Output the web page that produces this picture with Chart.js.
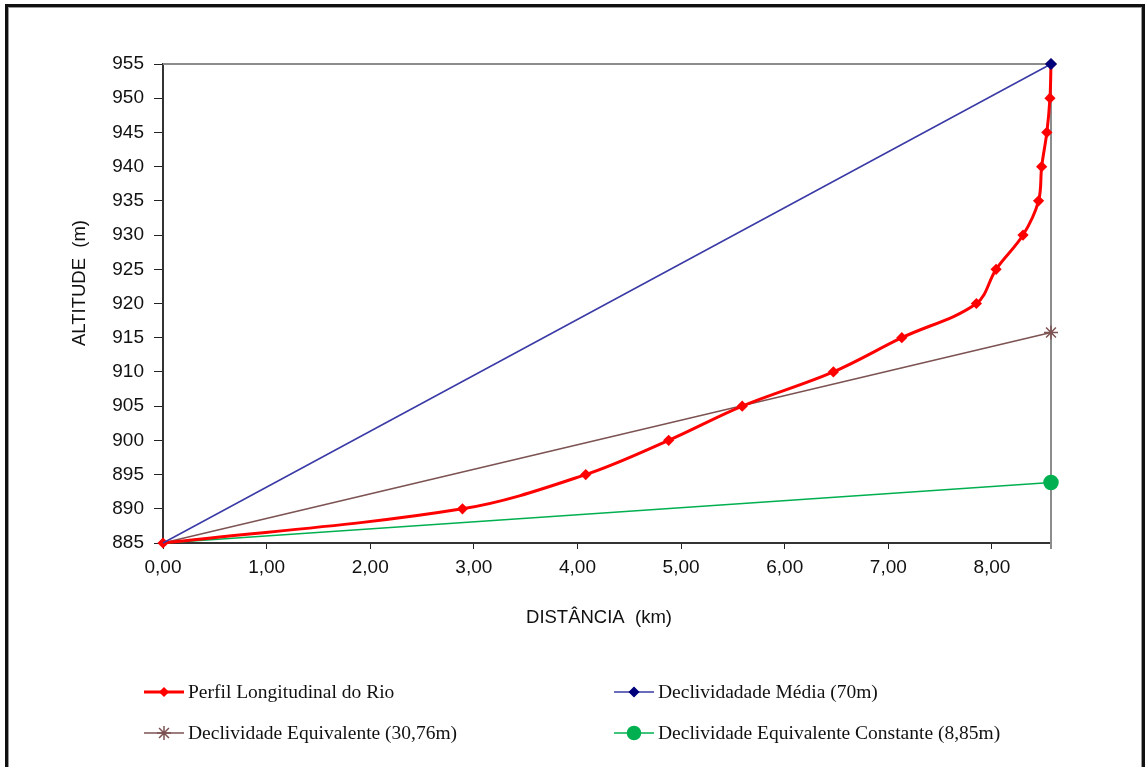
<!DOCTYPE html>
<html>
<head>
<meta charset="utf-8">
<script src="https://cdn.jsdelivr.net/npm/chart.js@4.4.1/dist/chart.umd.min.js"></script>
<style>
  html, body { margin: 0; padding: 0; background: #fff; }
  body { width: 1146px; height: 767px; position: relative; overflow: hidden; }
  .frame {
    position: absolute; left: 5px; top: 4px; width: 1134px; height: 820px;
    border: 3px solid #111; box-shadow: inset 0 0 0 1px #999;
  }
  #chart { position: absolute; left: 0; top: 0; }
</style>
</head>
<body>
<div class="frame"></div>
<canvas id="chart" width="1146" height="767"></canvas>
<script>
// river profile
const distKm = [0.00, 2.89, 4.08, 4.88, 5.59, 6.47, 7.13, 7.85, 8.04, 8.30, 8.45, 8.48, 8.53, 8.56, 8.57];
const altitude = [885, 890, 895, 900, 905, 910, 915, 920, 925, 930, 935, 940, 945, 950, 955];

// straight slope lines: start and end points
const slopeX = [0.00, 8.57];
const mediaY = [885, 955];
const equivY = [885, 915.76];
const constY = [885, 893.85];

const xTicks = [0, 1, 2, 3, 4, 5, 6, 7, 8];
const legendLabels = [
  'Perfil Longitudinal do Rio',
  'Declividadade Média (70m)',
  'Declividade Equivalente (30,76m)',
  'Declividade Equivalente Constante (8,85m)'
];
const xTitle = 'DISTÂNCIA  (km)';
const yTitle = 'ALTITUDE  (m)';

const toPts = (xs, ys) => xs.map((x, i) => ({ x: x, y: ys[i] }));
const fmt = v => v.toFixed(2).replace('.', ',');

const RED = '#ff0000';
const BLUE = '#3a3aa6';
const NAVY = '#00007a';
const BROWN = '#7d5252';
const GREEN = '#00b050';

// legend entries: colour, marker, marker size
const legendItems = [
  { text: legendLabels[0], color: RED, mark: RED, style: 'rectRot', r: 4, w: 3, col: 0, row: 0 },
  { text: legendLabels[1], color: BLUE, mark: NAVY, style: 'rectRot', r: 4.5, w: 1.5, col: 1, row: 0 },
  { text: legendLabels[2], color: BROWN, mark: BROWN, style: 'star', r: 7, w: 1.5, col: 0, row: 1 },
  { text: legendLabels[3], color: GREEN, mark: GREEN, style: 'circle', r: 6.5, w: 1.5, col: 1, row: 1 }
];

const framePlugin = {
  id: 'framePlugin',
  beforeDatasetsDraw(chart) {
    const { ctx, chartArea: a } = chart;
    ctx.save();
    ctx.strokeStyle = '#8c8c8c';
    ctx.lineWidth = 2;
    ctx.beginPath();
    ctx.moveTo(a.left, a.top);
    ctx.lineTo(a.right, a.top);
    ctx.lineTo(a.right, a.bottom + 6);
    ctx.stroke();
    ctx.restore();
  },
  afterDraw(chart) {
    const { ctx, chartArea: a } = chart;
    ctx.save();
    ctx.fillStyle = '#111';
    ctx.font = '18.5px "Liberation Sans", Arial, sans-serif';
    ctx.textAlign = 'center';
    ctx.textBaseline = 'middle';
    ctx.fillText(xTitle, (a.left + a.right) / 2 - 8, a.bottom + 75);
    ctx.translate(80, 283);
    ctx.rotate(-Math.PI / 2);
    ctx.fillText(yTitle, 0, 0);
    ctx.restore();

    // legend, two columns
    const colX = [144, 614];
    const rowY = [692, 733];
    ctx.save();
    legendItems.forEach(it => {
      const x0 = colX[it.col], y0 = rowY[it.row];
      ctx.strokeStyle = it.color;
      ctx.lineWidth = it.w;
      ctx.beginPath();
      ctx.moveTo(x0, y0);
      ctx.lineTo(x0 + 40, y0);
      ctx.stroke();
      ctx.fillStyle = it.mark;
      ctx.strokeStyle = it.mark;
      ctx.lineWidth = 1.5;
      Chart.helpers.drawPoint(ctx, { pointStyle: it.style, radius: it.r, borderWidth: 1.5, rotation: 0 }, x0 + 20, y0);
      ctx.fillStyle = '#111';
      ctx.font = '19.5px "Liberation Serif", "Times New Roman", serif';
      ctx.textAlign = 'left';
      ctx.textBaseline = 'middle';
      ctx.fillText(it.text, x0 + 44, y0 + 1);
    });
    ctx.restore();
  }
};

const tickFont = { family: '"Liberation Sans", Arial, sans-serif', size: 19 };

new Chart(document.getElementById('chart'), {
  type: 'scatter',
  data: {
    datasets: [
      {
        label: legendLabels[1],
        data: toPts(slopeX, mediaY),
        showLine: true,
        borderColor: BLUE,
        borderWidth: 1.5,
        pointStyle: 'rectRot',
        pointRadius: [0, 5],
        pointBackgroundColor: NAVY,
        pointBorderColor: NAVY,
        clip: false
      },
      {
        label: legendLabels[0],
        data: toPts(distKm, altitude),
        showLine: true,
        borderColor: RED,
        borderWidth: 3,
        tension: 0.35,
        pointStyle: 'rectRot',
        pointRadius: 3.5,
        pointBackgroundColor: RED,
        pointBorderColor: RED,
        clip: false
      },
      {
        label: legendLabels[2],
        data: toPts(slopeX, equivY),
        showLine: true,
        borderColor: BROWN,
        borderWidth: 1.5,
        pointStyle: 'star',
        pointRadius: [0, 7],
        pointBorderWidth: 1.5,
        pointBorderColor: BROWN,
        clip: false
      },
      {
        label: legendLabels[3],
        data: toPts(slopeX, constY),
        showLine: true,
        borderColor: GREEN,
        borderWidth: 1.5,
        pointStyle: 'circle',
        pointRadius: [0, 7],
        pointBackgroundColor: GREEN,
        pointBorderColor: GREEN,
        clip: false
      }
    ]
  },
  options: {
    responsive: false,
    animation: false,
    layout: { padding: { left: 0, top: 64, right: 95, bottom: 184 } },
    plugins: { legend: { display: false }, tooltip: { enabled: false } },
    scales: {
      x: {
        type: 'linear',
        min: 0,
        max: 8.57,
        afterFit: s => { s.height = 40; },
        afterBuildTicks: s => { s.ticks = xTicks.map(v => ({ value: v })); },
        ticks: { color: '#111', font: tickFont, padding: 7, callback: v => fmt(v) },
        grid: { drawOnChartArea: false, drawTicks: true, tickLength: 6, color: '#222' },
        border: { color: '#333', width: 2 }
      },
      y: {
        min: 885,
        max: 955,
        afterFit: s => { s.width = 163; },
        ticks: { stepSize: 5, color: '#111', font: tickFont, padding: 10 },
        grid: { drawOnChartArea: false, drawTicks: true, tickLength: 9, color: '#222' },
        border: { color: '#333', width: 2 }
      }
    }
  },
  plugins: [framePlugin]
});
</script>
</body>
</html>
